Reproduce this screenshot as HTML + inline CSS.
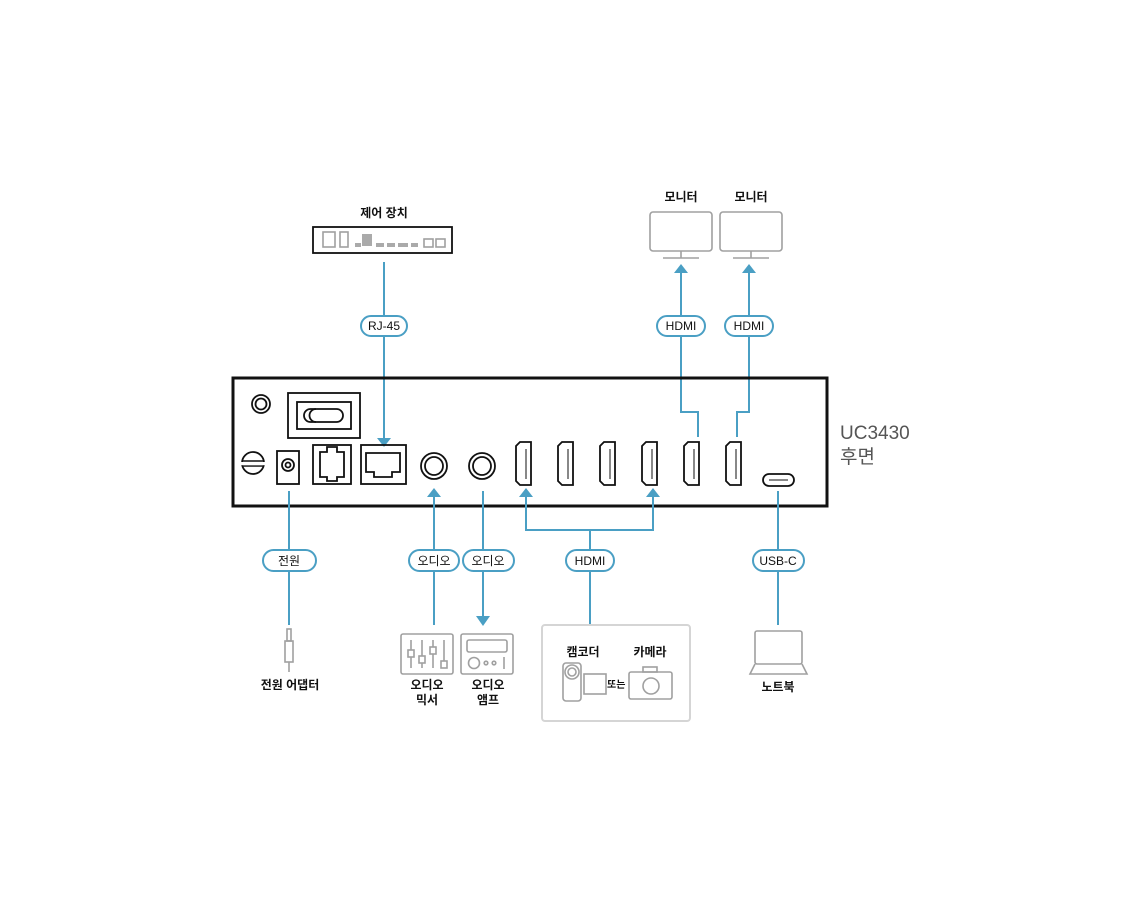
<!DOCTYPE html>
<html><head><meta charset="utf-8"><style>
html,body{margin:0;padding:0;background:#fff;}
svg{display:block;font-family:"Liberation Sans","Noto Sans CJK KR",sans-serif;}
.b{stroke:#4a9fc4;stroke-width:2;fill:none}
.g{stroke:#a0a0a0;stroke-width:1.6;fill:none}
.k{stroke:#111;stroke-width:1.8;fill:none}
.pill{fill:#fff;stroke:#4a9fc4;stroke-width:2}
.pt{font-size:12px;fill:#111;text-anchor:middle}
.lb{font-size:12px;fill:#111;text-anchor:middle;font-weight:bold}
.ah{fill:#4a9fc4}
</style></head><body>
<svg width="1140" height="913" viewBox="0 0 1140 913">
<!-- control device -->
<text class="lb" x="384" y="217">제어 장치</text>
<rect x="313" y="227" width="139" height="26" class="k" stroke-width="1.5"/>
<rect x="323" y="232" width="12" height="15" class="g"/>
<rect x="340" y="232" width="8" height="15" class="g"/>
<rect x="362" y="234" width="10" height="12" fill="#aaa"/>
<g fill="#aaa"><rect x="355" y="243" width="6" height="4"/><rect x="376" y="243" width="8" height="4"/><rect x="387" y="243" width="8" height="4"/><rect x="398" y="243" width="10" height="4"/><rect x="411" y="243" width="7" height="4"/></g>
<rect x="424" y="239" width="9" height="8" class="g"/><rect x="436" y="239" width="9" height="8" class="g"/>

<!-- monitors -->
<text class="lb" x="681" y="201">모니터</text>
<text class="lb" x="751" y="201">모니터</text>
<rect x="650" y="212" width="62" height="39" rx="3" class="g"/>
<line x1="681" y1="251" x2="681" y2="258" class="g"/><line x1="663" y1="258" x2="699" y2="258" class="g"/>
<rect x="720" y="212" width="62" height="39" rx="3" class="g"/>
<line x1="751" y1="251" x2="751" y2="258" class="g"/><line x1="733" y1="258" x2="769" y2="258" class="g"/>

<!-- top connectors -->
<path d="M384 262 V440" class="b"/><path d="M377 438 L391 438 L384 447 Z" class="ah"/>
<path d="M681 273 V412 H698 V437" class="b"/><path d="M674 273 L688 273 L681 264 Z" class="ah"/>
<path d="M749 273 V412 H737 V437" class="b"/><path d="M742 273 L756 273 L749 264 Z" class="ah"/>
<rect x="361" y="316" width="46" height="20" rx="10" class="pill"/><text class="pt" x="384" y="330">RJ-45</text>
<rect x="657" y="316" width="48" height="20" rx="10" class="pill"/><text class="pt" x="681" y="330">HDMI</text>
<rect x="725" y="316" width="48" height="20" rx="10" class="pill"/><text class="pt" x="749" y="330">HDMI</text>

<!-- main box -->
<rect x="233" y="378" width="594" height="128" fill="none" stroke="#111" stroke-width="3"/>
<text x="840" y="439" font-size="19" fill="#555">UC3430</text>
<text x="840" y="463" font-size="19" fill="#555">후면</text>
<!-- ground screw -->
<circle cx="261" cy="404" r="9" class="k" stroke-width="1.2"/><circle cx="261" cy="404" r="5.5" class="k" stroke-width="1"/>
<!-- switch -->
<rect x="288" y="393" width="72" height="45" class="k"/><rect x="297" y="402" width="54" height="27" class="k" stroke-width="1.2"/>
<rect x="304" y="409" width="39" height="13" rx="6.5" class="k" stroke-width="1.5"/><path d="M316 409 A6.5 6.5 0 0 0 316 422" class="k" stroke-width="1.2"/>
<!-- lock -->
<circle cx="253" cy="463" r="11" class="k" stroke-width="1.5"/>
<line x1="242" y1="461" x2="264" y2="461" stroke="#111" stroke-width="1.5"/><line x1="242" y1="466" x2="264" y2="466" stroke="#111" stroke-width="1.5"/>
<rect x="241" y="462" width="24" height="3.2" fill="#fff"/>
<!-- dc -->
<rect x="277" y="451" width="22" height="33" class="k" stroke-width="1.5"/><circle cx="288" cy="465" r="6" class="k" stroke-width="1.2"/><circle cx="288" cy="465" r="2.5" class="k" stroke-width="1"/>
<!-- rj11 -->
<rect x="313" y="445" width="38" height="39" class="k"/>
<path d="M320 452 H327 V447 H337 V452 H344 V477 H337 V481 H327 V477 H320 Z" class="k" stroke-width="1.3"/>
<!-- rj45 -->
<rect x="361" y="445" width="45" height="39" class="k"/>
<path d="M366 453 H400 V472 H392 V477 H374 V472 H366 Z" class="k" stroke-width="1.3"/>
<!-- audio -->
<circle cx="434" cy="466" r="13" class="k" stroke-width="2.8"/><circle cx="434" cy="466" r="9" class="k" stroke-width="1"/>
<circle cx="482" cy="466" r="13" class="k" stroke-width="2.8"/><circle cx="482" cy="466" r="9" class="k" stroke-width="1"/>
<!-- hdmi ports -->
<g class="k" stroke-width="2">
<path d="M520 442 H531 V485 H520 L516 481 V446 Z"/><path d="M562 442 H573 V485 H562 L558 481 V446 Z"/>
<path d="M604 442 H615 V485 H604 L600 481 V446 Z"/><path d="M646 442 H657 V485 H646 L642 481 V446 Z"/>
<path d="M688 442 H699 V485 H688 L684 481 V446 Z"/><path d="M730 442 H741 V485 H730 L726 481 V446 Z"/>
</g>
<g stroke="#111" stroke-width="1"><line x1="526" y1="449" x2="526" y2="479"/><line x1="568" y1="449" x2="568" y2="479"/><line x1="610" y1="449" x2="610" y2="479"/><line x1="652" y1="449" x2="652" y2="479"/><line x1="694" y1="449" x2="694" y2="479"/><line x1="736" y1="449" x2="736" y2="479"/></g>
<!-- usb-c -->
<rect x="763" y="474" width="31" height="12" rx="6" class="k" stroke-width="2"/><line x1="769" y1="480" x2="788" y2="480" stroke="#111" stroke-width="1"/>

<!-- bottom connectors -->
<path d="M289 491 V625" class="b"/>
<path d="M434 496 V625" class="b"/><path d="M427 497 L441 497 L434 488 Z" class="ah"/>
<path d="M483 491 V617" class="b"/><path d="M476 616 L490 616 L483 626 Z" class="ah"/>
<path d="M526 496 V530 H653 V496 M590 530 V625" class="b"/>
<path d="M519 497 L533 497 L526 488 Z" class="ah"/><path d="M646 497 L660 497 L653 488 Z" class="ah"/>
<path d="M778 491 V625" class="b"/>
<rect x="263" y="550" width="53" height="21" rx="10.5" class="pill"/><text class="pt" x="289" y="565">전원</text>
<rect x="409" y="550" width="50" height="21" rx="10.5" class="pill"/><text class="pt" x="434" y="565">오디오</text>
<rect x="463" y="550" width="51" height="21" rx="10.5" class="pill"/><text class="pt" x="488" y="565">오디오</text>
<rect x="566" y="550" width="48" height="21" rx="10.5" class="pill"/><text class="pt" x="590" y="565">HDMI</text>
<rect x="753" y="550" width="51" height="21" rx="10.5" class="pill"/><text class="pt" x="778" y="565">USB-C</text>

<!-- power adapter -->
<rect x="287" y="629" width="4" height="12" class="g" stroke-width="1.3"/>
<rect x="285" y="641" width="8" height="21" class="g" stroke-width="1.3"/>
<line x1="289" y1="662" x2="289" y2="672" class="g" stroke-width="1.3"/>
<text class="lb" x="290" y="689">전원 어댑터</text>
<!-- mixer -->
<rect x="401" y="634" width="52" height="40" rx="2" class="g"/>
<g class="g" stroke-width="1.2"><line x1="411" y1="640" x2="411" y2="668"/><line x1="422" y1="640" x2="422" y2="668"/><line x1="433" y1="640" x2="433" y2="668"/><line x1="444" y1="640" x2="444" y2="668"/>
<rect x="408" y="650" width="6" height="7" fill="#fff"/><rect x="419" y="656" width="6" height="7" fill="#fff"/><rect x="430" y="647" width="6" height="7" fill="#fff"/><rect x="441" y="661" width="6" height="7" fill="#fff"/></g>
<text class="lb" x="427" y="689">오디오</text><text class="lb" x="427" y="704">믹서</text>
<!-- amp -->
<rect x="461" y="634" width="52" height="40" rx="2" class="g"/>
<rect x="467" y="640" width="40" height="12" rx="2" class="g" stroke-width="1.2"/>
<circle cx="474" cy="663" r="5.5" class="g" stroke-width="1.2"/><circle cx="486" cy="663" r="1.8" class="g" stroke-width="1"/><circle cx="494" cy="663" r="1.8" class="g" stroke-width="1"/>
<line x1="504" y1="657" x2="504" y2="669" class="g" stroke-width="1.2"/>
<text class="lb" x="488" y="689">오디오</text><text class="lb" x="488" y="704">앰프</text>
<!-- camera box -->
<rect x="542" y="625" width="148" height="96" rx="3" fill="none" stroke="#d5d5d5" stroke-width="2"/>
<text class="lb" x="583" y="656">캠코더</text><text class="lb" x="650" y="656">카메라</text>
<rect x="563" y="663" width="18" height="38" rx="3" class="g" stroke-width="1.3"/>
<circle cx="572" cy="672" r="7" class="g" stroke-width="1.3"/><circle cx="572" cy="672" r="4" class="g" stroke-width="1"/>
<rect x="584" y="674" width="22" height="20" class="g" stroke-width="1.3"/>
<text x="607" y="688" font-size="10" fill="#111" font-weight="bold">또는</text>
<rect x="629" y="672" width="43" height="27" rx="2" class="g" stroke-width="1.3"/>
<rect x="643" y="667" width="14" height="5" class="g" stroke-width="1.2"/>
<circle cx="651" cy="686" r="8" class="g" stroke-width="1.3"/>
<!-- laptop -->
<rect x="755" y="631" width="47" height="33" rx="2" class="g"/>
<path d="M755 664 L750 674 H807 L802 664" class="g"/>
<text class="lb" x="778" y="691">노트북</text>
</svg>
</body></html>
